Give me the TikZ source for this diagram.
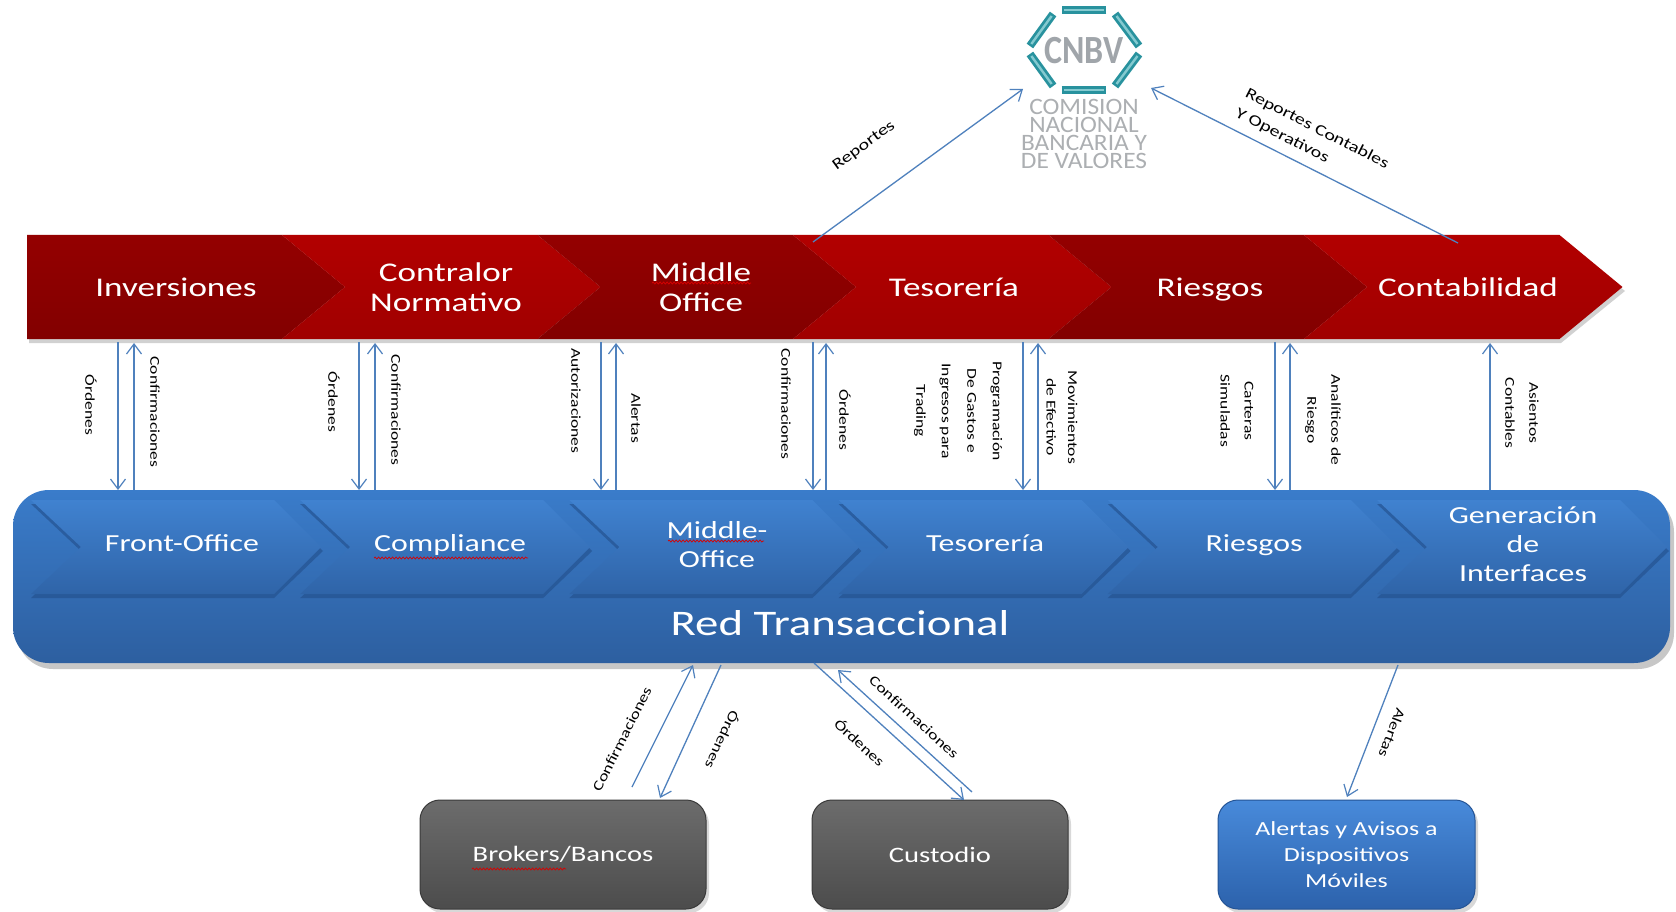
\documentclass[tikz,border=0pt]{standalone}
\usepackage{fontspec}
\setmainfont{Carlito}
\newfontfamily\wf{Carlito}[FakeStretch=1.3]
\newfontfamily\cnf{Carlito}[FakeStretch=0.85]
\newfontfamily\cnl{Carlito}[FakeStretch=1.08]
\usetikzlibrary{arrows.meta,decorations.pathmorphing,calc,shadows}
\definecolor{arr}{RGB}{79,129,189}
\definecolor{rdT}{RGB}{148,0,0}
\definecolor{rdB}{RGB}{130,0,0}
\definecolor{rbT}{RGB}{178,0,0}
\definecolor{rbB}{RGB}{160,0,0}
\definecolor{bandT}{RGB}{58,124,202}
\definecolor{bandB}{RGB}{45,95,160}
\definecolor{chT}{RGB}{64,130,208}
\definecolor{chB}{RGB}{47,100,168}
\definecolor{chS}{RGB}{34,78,138}
\definecolor{grT}{RGB}{108,108,108}
\definecolor{grB}{RGB}{76,76,76}
\definecolor{grD}{RGB}{58,58,58}
\definecolor{alT}{RGB}{72,138,218}
\definecolor{alB}{RGB}{44,98,172}
\definecolor{alD}{RGB}{36,84,150}
\definecolor{tealc}{RGB}{40,146,158}
\definecolor{teall}{RGB}{132,202,208}
\definecolor{cnbvg}{RGB}{160,165,170}
\definecolor{cnbvl}{RGB}{172,175,178}
\begin{document}
\begin{tikzpicture}[x=1pt,y=-1pt,
  flow/.style={draw=arr,line width=1.3pt,-{Straight Barb[length=10pt,width=15pt,line width=1.2pt]}},
  lab/.style={font=\wf\fontsize{13.5}{24}\selectfont,inner sep=0pt,align=center,text=black},
  vlab/.style={lab,rotate=-90},
  dlab/.style={font=\wf\fontsize{14}{20}\selectfont,inner sep=0pt,align=center,text=black},
  tlab/.style={font=\wf\fontsize{15.5}{22}\selectfont,inner sep=0pt,text=black},
  redtxt/.style={font=\wf\fontsize{27}{30}\selectfont,text=white,align=center,inner sep=0pt},
  bluetxt/.style={font=\wf\fontsize{24.5}{29}\selectfont,text=white,align=center,inner sep=0pt},
  redone/.style={redtxt,text height=19pt,text depth=6pt},
  blueone/.style={bluetxt,text height=17pt,text depth=6pt},
  wavy/.style={draw=red!85!black,line width=0.7pt,decorate,decoration={snake,amplitude=1pt,segment length=3.5pt}},
  hexbar/.style={line width=8pt,draw=tealc},
  hexhi/.style={line width=2.4pt,draw=teall},
  graybox/.style={rounded corners=20pt,draw=grD,line width=1pt,top color=grT,bottom color=grB,
     text=white,font=\wf\fontsize{22}{26}\selectfont,align=center,inner sep=0pt,
     drop shadow={shadow xshift=3pt,shadow yshift=-4pt,opacity=.3}},
  bluebox/.style={graybox,draw=alD,top color=alT,bottom color=alB,font=\wf\fontsize{20}{26}\selectfont},
]
\fill[white] (0,0) rectangle (1676,912);
\useasboundingbox (0,0) rectangle (1676,912);

% ---------- CNBV logo ----------
\coordinate (h0) at (1142,50);
\coordinate (h1) at (1112,10);
\coordinate (h2) at (1056,10);
\coordinate (h3) at (1027,50);
\coordinate (h4) at (1056,90);
\coordinate (h5) at (1112,90);
\foreach \a/\b in {h0/h1,h1/h2,h2/h3,h3/h4,h4/h5,h5/h0}{
  \draw[hexbar] ($(\a)!0.1!(\b)$) -- ($(\a)!0.9!(\b)$);
  \draw[hexhi] ($(\a)!0.15!(\b)$) -- ($(\a)!0.85!(\b)$);
}
\node[font=\cnf\bfseries\fontsize{40}{40}\selectfont,text=cnbvg,inner sep=0pt] (cnbv) at (1084,51) {CNBV};
\node[font=\cnl\fontsize{23.5}{18.3}\selectfont,text=cnbvl,align=center,inner sep=0pt] (cnbvname) at (1084,134)
  {COMISION\\NACIONAL\\BANCARIA Y\\DE VALORES};

% ---------- red process bar ----------
\fill[black,opacity=.18] (29,239) -- (1561,239) -- (1625,291) -- (1561,343) -- (29,343) -- cycle;
\shade[top color=rdT,bottom color=rdB] (27,235) -- (282,235) -- (345,287) -- (282,339) -- (27,339) -- cycle;
\foreach \i/\ct/\cb in {1/rbT/rbB,2/rdT/rdB,3/rbT/rbB,4/rdT/rdB,5/rbT/rbB}{
  \pgfmathsetmacro\L{282+255.5*(\i-1)}
  \shade[top color=\ct,bottom color=\cb] (\L,235) -- ({\L+255.5},235) -- ({\L+318.5},287)
     -- ({\L+255.5},339) -- (\L,339) -- ({\L+63},287) -- cycle;
}
\node[redone] (inv) at (176,289.5) {Inversiones};
\node[redtxt] (con) at (446,287) {Contralor\\Normativo};
\node[redtxt] (mid) at (701,287) {Middle\\Office};
\node[redone] (tes) at (954,289.5) {Tesorería};
\node[redone] (rie) at (1210,289.5) {Riesgos};
\node[redone] (cont) at (1468,289.5) {Contabilidad};
\draw[wavy] (652,283) -- (751,283);

% ---------- blue band ----------
\fill[black,opacity=.22,rounded corners=36pt] (17,496) rectangle (1674,669);
\shade[top color=bandT,bottom color=bandB,rounded corners=36pt] (13,490) rectangle (1670,663);
\foreach \i in {0,...,5}{
  \pgfmathsetmacro\L{31+269.2*\i}
  \fill[chS,opacity=.6] (\L,504) -- ({\L+243},504) -- ({\L+292},551) -- ({\L+243},598)
     -- (\L,598) -- ({\L+50},551) -- cycle;
  \shade[top color=chT,bottom color=chB] (\L,500) -- ({\L+243},500) -- ({\L+290},547)
     -- ({\L+243},594) -- (\L,594) -- ({\L+50},547) -- cycle;
}
\node[blueone] (fo) at (182,546) {Front-Office};
\node[blueone] (cmp) at (450,546) {Compliance};
\node[bluetxt] (mo) at (717,545) {Middle-\\Office};
\node[blueone] (tes2) at (985,546) {Tesorería};
\node[blueone] (rie2) at (1254,546) {Riesgos};
\node[bluetxt] (gen) at (1523,544) {Generación\\de\\Interfaces};
\node[font=\wf\fontsize{36}{40}\selectfont,text=white,inner sep=0pt] (red) at (840,623) {Red Transaccional};
\draw[wavy] (374,558) -- (528,558);
\draw[wavy] (668,541) -- (764,541);

% ---------- vertical arrows ----------
\foreach \n/\x in {1/118,2/359,3/601,4/813,5/1023,6/1275}{
  \coordinate (dtop\n) at (\x,342);
  \coordinate (dbot\n) at (\x,490);
  \draw[flow] (dtop\n) -- (dbot\n);
}
\foreach \n/\x in {1/134,2/375,3/616,4/826,5/1038,6/1290,7/1490}{
  \coordinate (ubot\n) at (\x,490);
  \coordinate (utop\n) at (\x,343);
  \draw[flow] (ubot\n) -- (utop\n);
}
\node[vlab] (l1) at (91,405) {Órdenes};
\node[vlab] (l2) at (155,412) {Confirmaciones};
\node[vlab] (l3) at (334,402) {Órdenes};
\node[vlab] (l4) at (396,410) {Confirmaciones};
\node[vlab] (l5) at (576,401) {Autorizaciones};
\node[vlab] (l6) at (636,418) {Alertas};
\node[vlab] (l7) at (786,404) {Confirmaciones};
\node[vlab] (l8) at (845,420) {Órdenes};
\node[vlab,font=\wf\fontsize{13.5}{25.5}\selectfont] (l9) at (958,411) {Programación\\De Gastos e\\Ingresos para\\Trading};
\node[vlab,font=\wf\fontsize{13.5}{21.5}\selectfont] (l10) at (1062,417) {Movimientos\\de Efectivo};
\node[vlab] (l11) at (1237,411) {Carteras\\Simuladas};
\node[vlab] (l12) at (1323,420) {Analíticos de\\Riesgo};
\node[vlab] (l13) at (1522,413) {Asientos\\Contables};

% ---------- arrows to CNBV ----------
\coordinate (rp1) at (813,242); \coordinate (rp2) at (1023,89);
\coordinate (rc1) at (1458,243); \coordinate (rc2) at (1151,88);
\draw[flow] (rp1) -- (rp2);
\draw[flow] (rc1) -- (rc2);
\node[tlab,rotate=36] (lrep) at (864,146) {Reportes};
\node[tlab,rotate=-27,align=left] (lrc) at (1312,139) {Reportes Contables\\Y Operativos};

% ---------- bottom boxes ----------
\node[graybox,minimum width=286pt,minimum height=109pt] (brk) at (563,854.5) {Brokers/Bancos};
\node[graybox,minimum width=256pt,minimum height=109pt] (cus) at (940,854.5) {Custodio};
\node[bluebox,minimum width=257pt,minimum height=109pt] (alr) at (1346.5,854.5) {Alertas y Avisos a\\Dispositivos\\Móviles};
\draw[wavy] (472,869) -- (566,869);

\coordinate (bc1) at (632,787); \coordinate (bc2) at (693,665);
\coordinate (bo1) at (721,665); \coordinate (bo2) at (660,798);
\coordinate (co1) at (814,663); \coordinate (co2) at (964,800);
\coordinate (cc1) at (972,792); \coordinate (cc2) at (838,670);
\coordinate (al1) at (1398,665); \coordinate (al2) at (1347,797);
\draw[flow] (bc1) -- (bc2);
\draw[flow] (bo1) -- (bo2);
\draw[flow] (co1) -- (co2);
\draw[flow] (cc1) -- (cc2);
\draw[flow] (al1) -- (al2);
\node[dlab,rotate=63.4] (lbc) at (622,739) {Confirmaciones};
\node[dlab,rotate=-114.6] (lbo) at (723,740) {Órdenes};
\node[dlab,rotate=-42.4] (lco) at (860,742) {Órdenes};
\node[dlab,rotate=-42.4] (lcc) at (914,717) {Confirmaciones};
\node[dlab,rotate=-111] (lal) at (1392,733) {Alertas};
\end{tikzpicture}
\end{document}
